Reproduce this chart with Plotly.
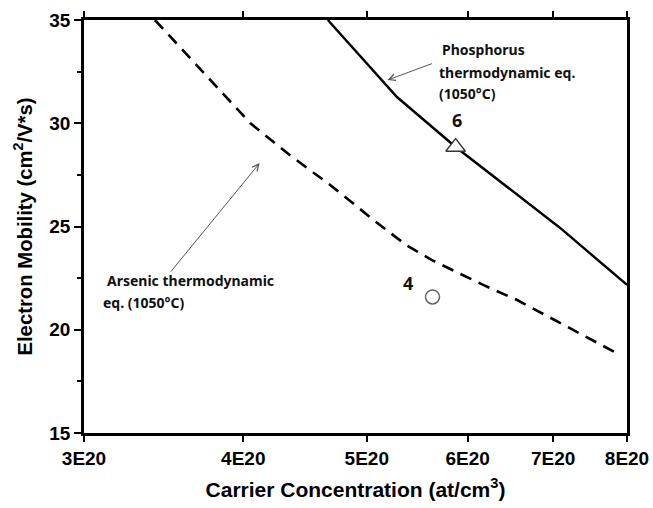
import math
import plotly.graph_objects as go

# ---- data ----
carrier_P = [4.66e20, 5.28e20, 5.87e20, 7.09e20, 8.0e20]
mobility_P = [35.0, 31.27, 28.85, 24.93, 22.17]

carrier_As = [3.41e20, 3.75e20, 4.05e20, 4.35e20, 4.68e20, 5.12e20, 5.37e20,
              5.62e20, 6.17e20, 6.56e20, 7.90e20]
mobility_As = [35.0, 32.24, 30.01, 28.46, 27.01, 25.07, 24.10, 23.38, 22.17,
               21.44, 18.78]

sample6_x, sample6_y = [5.87e20], [28.85]
sample4_x, sample4_y = [5.63e20], [21.59]

x_tick_vals = [3e20, 4e20, 5e20, 6e20, 7e20, 8e20]
x_tick_text = ["3E20", "4E20", "5E20", "6E20", "7E20", "8E20"]
y_tick_vals = [15, 20, 25, 30, 35]

x_title = "Carrier Concentration (at/cm<sup>3</sup>)"
y_title = "Electron Mobility (cm<sup>2</sup>/V*s)"

L = math.log10

fig = go.Figure()
fig.add_trace(go.Scatter(x=carrier_As, y=mobility_As, mode="lines",
                         line=dict(color="black", width=2.6, dash="12px,8px"),
                         showlegend=False))
fig.add_trace(go.Scatter(x=carrier_P, y=mobility_P, mode="lines",
                         line=dict(color="black", width=2.4),
                         showlegend=False))
fig.add_trace(go.Scatter(x=sample6_x, y=sample6_y, mode="markers",
                         marker=dict(symbol="triangle-up", size=17, color="white",
                                     line=dict(color="#333", width=1.3)),
                         showlegend=False))
fig.add_trace(go.Scatter(x=sample4_x, y=sample4_y, mode="markers",
                         marker=dict(symbol="circle", size=14, color="white",
                                     line=dict(color="#666", width=1.5)),
                         showlegend=False))

note_font = dict(family="Noto Sans", size=14, color="#111")
num_font = dict(family="Noto Sans", size=18, color="#111")
anns = [
    # arrows
    dict(x=L(5.19e20), y=32.09, ax=46, ay=-17, xref="x", yref="y",
         showarrow=True, arrowhead=5, arrowsize=1.3, arrowwidth=1,
         arrowcolor="#555", text=""),
    dict(x=L(4.12e20), y=28.07, ax=-90, ay=110, xref="x", yref="y",
         showarrow=True, arrowhead=5, arrowsize=1.3, arrowwidth=1,
         arrowcolor="#555", text=""),
    # phosphorus label
    dict(x=L(5.71e20), y=33.55, text="<b>Phosphorus</b>", xanchor="left",
         showarrow=False, font=note_font),
    dict(x=L(5.68e20), y=32.48, text="<b>thermodynamic eq.</b>", xanchor="left",
         showarrow=False, font=note_font),
    dict(x=L(5.68e20), y=31.45, text="<b>(1050°C)</b>", xanchor="left",
         showarrow=False, font=note_font),
    # arsenic label
    dict(x=L(3.116e20), y=22.38, text="<b>Arsenic thermodynamic</b>", xanchor="left",
         showarrow=False, font=note_font),
    dict(x=L(3.094e20), y=21.33, text="<b>eq. (1050°C)</b>", xanchor="left",
         showarrow=False, font=note_font),
    # sample numbers
    dict(x=L(5.89e20), y=30.16, text="<b>6</b>", showarrow=False, font=num_font),
    dict(x=L(5.39e20), y=22.26, text="<b>4</b>", showarrow=False, font=num_font),
]
for a in anns:
    fig.add_annotation(**a)

tick_font = dict(family="Liberation Sans", size=19, color="black", weight="bold")
fig.update_xaxes(type="log", range=[L(3e20), L(8e20)], automargin=False,
                 tickvals=x_tick_vals, ticktext=x_tick_text, ticklabeloverflow="allow",
                 ticks="outside", ticklen=6, tickwidth=2, tickcolor="black",
                 showline=True, linewidth=2.8, linecolor="black", mirror="ticks",
                 showgrid=False, zeroline=False, tickfont=tick_font,
                 title=dict(text="<b>" + x_title + "</b>",
                            font=dict(family="Liberation Sans", size=21, color="black"),
                            standoff=15))
fig.update_yaxes(range=[15, 35], tickvals=y_tick_vals, automargin=False,
                 ticklabeloverflow="allow",
                 ticks="outside", ticklen=7, tickwidth=2, tickcolor="black",
                 minor=dict(dtick=2.5, ticks="outside", ticklen=4, tickwidth=2,
                            tickcolor="black", showgrid=False),
                 showline=True, linewidth=2.8, linecolor="black", mirror=True,
                 showgrid=False, zeroline=False, tickfont=tick_font,
                 title=dict(text="<b>" + y_title + "</b>",
                            font=dict(family="Liberation Sans", size=20.3, color="black"),
                            standoff=12))

fig.update_layout(width=653, height=508,
                  margin=dict(l=84, r=26, t=20, b=75),
                  plot_bgcolor="white", paper_bgcolor="white")
# remove the page's default body margin so the figure fills the window exactly
fig.write_html("out.html", config={"displayModeBar": False},
               post_script="document.body.style.margin='0';document.body.style.overflow='hidden';")
